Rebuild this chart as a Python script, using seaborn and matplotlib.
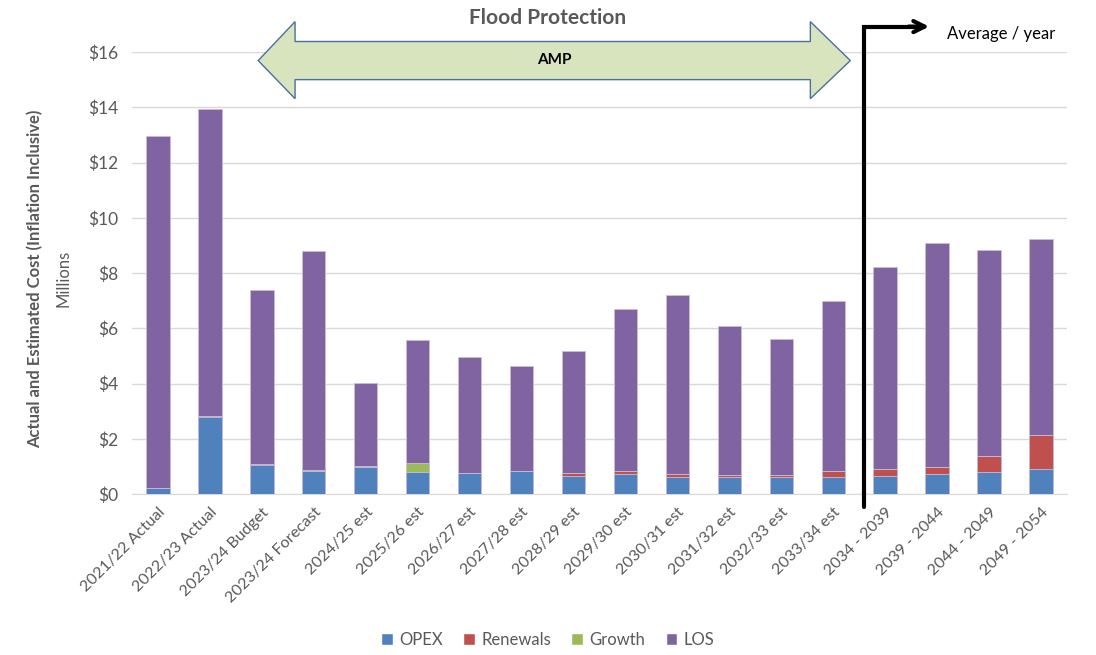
import numpy as np
import pandas as pd
import matplotlib
matplotlib.use("Agg")
import matplotlib.pyplot as plt
import seaborn as sns
from matplotlib.patches import Polygon, Patch

# data ($ millions)
categories = ["2021/22 Actual", "2022/23 Actual", "2023/24 Budget", "2023/24 Forecast",
              "2024/25 est", "2025/26 est", "2026/27 est", "2027/28 est", "2028/29 est",
              "2029/30 est", "2030/31 est", "2031/32 est", "2032/33 est", "2033/34 est",
              "2034 - 2039", "2039 - 2044", "2044 - 2049", "2049 - 2054"]
opex = [0.23, 2.80, 1.04, 0.82, 0.97, 0.81, 0.77, 0.83, 0.64, 0.74, 0.63, 0.60, 0.60, 0.62,
        0.66, 0.71, 0.81, 0.90]
renewals = [0.0, 0.03, 0.03, 0.03, 0.0, 0.0, 0.0, 0.0, 0.11, 0.10, 0.10, 0.10, 0.10, 0.22,
            0.23, 0.28, 0.56, 1.22]
growth = [0.0, 0.0, 0.03, 0.03, 0.05, 0.31, 0.0, 0.0, 0.0, 0.0, 0.0, 0.0, 0.0, 0.0,
          0.0, 0.0, 0.0, 0.0]
totals = [12.97, 13.95, 7.40, 8.80, 4.02, 5.59, 4.97, 4.63, 5.16, 6.71, 7.22, 6.08, 5.61, 6.97,
          8.20, 9.07, 8.84, 9.22]
los = [t - o - r - g for t, o, r, g in zip(totals, opex, renewals, growth)]

series = ["OPEX", "Renewals", "Growth", "LOS"]
colors = {"OPEX": "#4F81BD", "Renewals": "#C0504D", "Growth": "#9BBB59", "LOS": "#8064A2"}

df = pd.DataFrame({"cat": categories, "OPEX": opex, "Renewals": renewals,
                   "Growth": growth, "LOS": los})
cum = df[series].cumsum(axis=1)

sns.set_style("white")
plt.rcParams["font.family"] = ["Lato", "DejaVu Sans"]
grey = "#595959"

fig = plt.figure(figsize=(10.96, 6.55), dpi=100)
ax = fig.add_axes([0.1204, 0.2458, 0.8531, 0.6748])

# stacked bars: draw cumulative sums from the top series down
for s in reversed(series):
    sns.barplot(x=df["cat"], y=cum[s], color=colors[s], width=0.45, saturation=1,
                edgecolor="#C9BEDA", linewidth=0.6, ax=ax, zorder=3)

ax.set_ylim(0, 16)
ax.set_xlim(-0.5, len(categories) - 0.5)
ax.set_yticks(np.arange(0, 17, 2))
ax.set_yticklabels([f"${v}" for v in range(0, 17, 2)], color=grey, fontsize=12.5)
ax.yaxis.grid(True, color="#D9D9D9", linewidth=1, zorder=0)
ax.set_axisbelow(True)
ax.set_xlabel("")
ax.set_ylabel("")
ax.set_xticks(range(len(categories)))
ax.set_xticklabels(categories, rotation=45, ha="right", rotation_mode="anchor",
                   color=grey, fontsize=11.5)
ax.tick_params(axis="x", length=0, pad=8)
ax.tick_params(axis="y", length=0, pad=10)
ax.set_xticks(np.arange(-0.5, len(categories), 1), minor=True)
ax.tick_params(axis="x", which="minor", length=6, color="#D9D9D9")
for side in ["top", "right", "left"]:
    ax.spines[side].set_visible(False)
ax.spines["bottom"].set_color("#D9D9D9")

# AMP double arrow
arrow = [(1.93, 15.69), (2.64, 17.1), (2.64, 16.38), (12.56, 16.38), (12.56, 17.1),
         (13.33, 15.69), (12.56, 14.31), (12.56, 15.0), (2.64, 15.0), (2.64, 14.31)]
ax.add_patch(Polygon(arrow, closed=True, facecolor="#D7E4BD", edgecolor="#4A6FA0",
                     linewidth=1, clip_on=False, zorder=5))
ax.text(7.63, 15.72, "AMP", ha="center", va="center", fontsize=11, fontweight="bold",
        color="black", zorder=6)
ax.text(7.5, 17.22, "Flood Protection", ha="center", va="center", fontsize=15,
        fontweight="bold", color=grey)

# average / year marker
ax.plot([13.6, 13.6, 14.6], [-0.47, 16.92, 16.92], color="black", linewidth=3,
        clip_on=False, zorder=6, solid_joinstyle="miter")
ax.annotate("", xy=(14.9, 16.92), xytext=(14.4, 16.92),
            arrowprops=dict(arrowstyle="->", color="black", lw=3, mutation_scale=20),
            annotation_clip=False, zorder=6)
ax.text(15.2, 16.66, "Average / year", ha="left", va="center", fontsize=12, color="black")

fig.text(0.032, 0.575, "Actual and Estimated Cost (Inflation Inclusive)", rotation=90,
         ha="center", va="center", fontsize=12, fontweight="bold", color=grey)
fig.text(0.058, 0.575, "Millions", rotation=90, ha="center", va="center",
         fontsize=12, color=grey)

handles = [Patch(facecolor=colors[s], label=s) for s in series]
fig.legend(handles=handles, loc="center", bbox_to_anchor=(0.5, 0.023), ncol=4,
           frameon=False, handlelength=0.7, handleheight=0.7, handletextpad=0.4,
           columnspacing=1.2, labelcolor=grey, fontsize=12)

fig.savefig("out.png", dpi=100)
